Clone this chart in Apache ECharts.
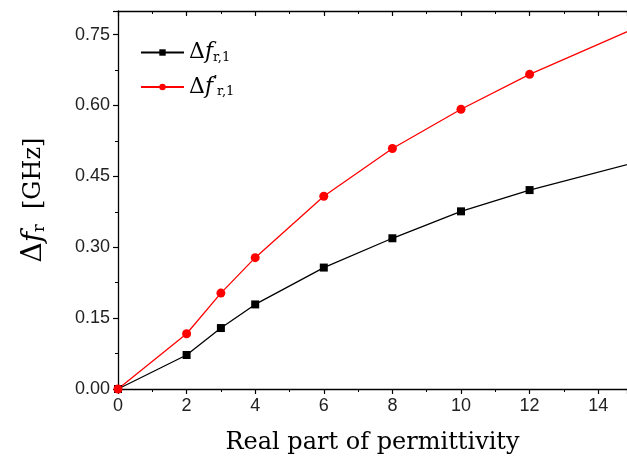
<!DOCTYPE html>
<html><head><meta charset="utf-8">
<script src="https://cdn.jsdelivr.net/npm/echarts@6/dist/echarts.min.js"></script>
<style>html,body{margin:0;padding:0;background:#fff}#c{width:627px;height:459px}</style>
</head><body><div id="c"></div>
<script>
const permittivity = [0, 2, 3, 4, 6, 8, 10, 12, 16];
const dfr1 = [0, 0.072, 0.129, 0.179, 0.257, 0.319, 0.376, 0.421, 0.497];
const dfr1p = [0, 0.117, 0.203, 0.278, 0.408, 0.509, 0.592, 0.666, 0.793];
const seriesNames = ['dfr1', 'dfr1p'];
const xTitle = 'Real part of permittivity';

const chart = echarts.init(document.getElementById('c'), null, {renderer: 'canvas'});
const serif = '"DejaVu Serif", "Liberation Serif", serif';
const sans = '"Liberation Sans", Arial, sans-serif';
const axisCommon = {
  axisLine: {lineStyle: {color: '#000', width: 1.3}},
  axisTick: {inside: false, length: 5, lineStyle: {color: '#000', width: 1.2}},
  minorTick: {show: true, splitNumber: 2, length: 3, lineStyle: {color: '#000', width: 1}},
  splitLine: {show: false},
  axisLabel: {color: '#222', fontFamily: sans, fontSize: 18, margin: 8, showMaxLabel: false}
};
chart.setOption({
  animation: false,
  grid: {left: 118, right: 0, top: 11, bottom: 70, containLabel: false, outerBoundsMode: 'none'},
  legend: {
    left: 135, top: 36, orient: 'vertical', itemWidth: 43, itemHeight: 8, itemGap: 11,
    data: seriesNames,
    formatter: function (n) {
      return n === 'dfr1' ? '{d|Δ}{f|f}{s|r,1}' : '{d|Δ}{f|f}{p|′}{s|r,1}';
    },
    textStyle: {
      rich: {
        d: {fontFamily: serif, fontSize: 22, color: '#000', lineHeight: 28},
        f: {fontFamily: serif, fontStyle: 'italic', fontSize: 22, color: '#000', lineHeight: 28},
        p: {fontFamily: serif, fontSize: 18, color: '#000', lineHeight: 28, padding: [0, 0, 6, 0]},
        s: {fontFamily: serif, fontSize: 13, color: '#000', lineHeight: 22, padding: [10, 0, 0, 0]}
      }
    }
  },
  xAxis: [Object.assign({}, axisCommon, {
    type: 'value', min: 0, max: 14.84, interval: 2,
    name: xTitle, nameLocation: 'middle', nameGap: 42,
    nameTextStyle: {fontFamily: serif, fontSize: 24, color: '#000'}
  }), {
    type: 'value', position: 'top', min: 0, max: 14.84, interval: 2,
    axisLine: {show: true, lineStyle: {color: '#000', width: 1.3}},
    axisTick: {show: true, inside: true, length: 5, lineStyle: {color: '#000', width: 1.2}},
    minorTick: {show: true, splitNumber: 2, length: 3, lineStyle: {color: '#000', width: 1}},
    axisLabel: {show: false}, splitLine: {show: false}
  }],
  yAxis: Object.assign({}, axisCommon, {
    type: 'value', min: 0, max: 0.80, interval: 0.15,
    axisLabel: Object.assign({}, axisCommon.axisLabel, {formatter: v => v.toFixed(2)}),
    name: '{d|Δ}{f|f}{s|r}{g|  [GHz]}', nameLocation: 'middle', nameGap: 70,
    nameTextStyle: {
      rich: {
        d: {fontFamily: serif, fontSize: 28, color: '#000'},
        f: {fontFamily: serif, fontStyle: 'italic', fontSize: 28, color: '#000'},
        s: {fontFamily: serif, fontSize: 16, color: '#000', padding: [12, 0, 0, 0]},
        g: {fontFamily: serif, fontSize: 24, color: '#000'}
      }
    }
  }),
  series: [{
    name: 'dfr1', type: 'line', clip: true, symbol: 'rect', symbolSize: 8,
    data: permittivity.map((x, i) => [x, dfr1[i]]),
    itemStyle: {color: '#000'}, lineStyle: {color: '#000', width: 1.3}
  }, {
    name: 'dfr1p', type: 'line', clip: true, symbol: 'circle', symbolSize: 9,
    data: permittivity.map((x, i) => [x, dfr1p[i]]),
    itemStyle: {color: '#ff0000'}, lineStyle: {color: '#ff0000', width: 1.3}
  }]
});
</script></body></html>
